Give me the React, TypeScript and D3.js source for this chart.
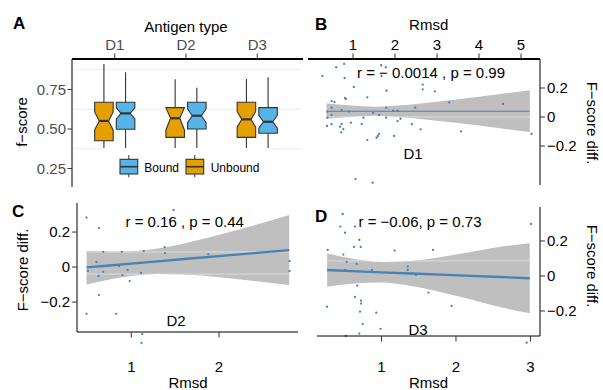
import React from 'react';
import * as d3 from 'd3';

const FONT = 'Liberation Sans, Arial, Helvetica, sans-serif';

// ---- panel A : notched boxplots ----
const antigenTypes = ['D1', 'D2', 'D3'];
const boxGroups = ['Unbound', 'Bound'];
const boxFill: Record<string, string> = { Unbound: '#E69F00', Bound: '#56B4E9' };
// [ymin, lower, notchLower, middle, notchUpper, upper, ymax] per antigen type
const unboundBoxes = [
  [0.33, 0.426, 0.494, 0.551, 0.608, 0.669, 0.911],
  [0.33, 0.447, 0.494, 0.568, 0.635, 0.635, 0.815],
  [0.33, 0.447, 0.511, 0.561, 0.611, 0.669, 0.816],
];
const boundBoxes = [
  [0.33, 0.498, 0.564, 0.599, 0.634, 0.669, 0.859],
  [0.33, 0.5, 0.54, 0.584, 0.628, 0.669, 0.761],
  [0.33, 0.473, 0.506, 0.546, 0.586, 0.635, 0.827],
];
const fscoreTicks = [0.25, 0.5, 0.75];
const fscoreGrid = [0.375, 0.625, 0.875];

// ---- panels B, C, D : rmsd vs f-score diff ----
const d1Points: [number, number][] = [
  [0.79, 0.366], [0.6, 0.343], [1.67, 0.357], [1.78, 0.343], [0.27, 0.283], [0.8, 0.269],
  [1.68, 0.283], [1.02, 0.207], [1.8, 0.181], [2.66, 0.223], [2.66, 0.191], [2.95, 0.177],
  [2.88, 0.283], [1.34, 0.136], [0.81, 0.131], [0.83, 0.124], [0.49, 0.11], [0.56, 0.103],
  [0.49, 0.064], [0.73, 0.048], [1.79, 0.064], [1.96, 0.043], [2.06, 0.043], [2.48, 0.064],
  [0.39, 0.037], [0.91, 0.037], [1.48, 0.028], [0.49, 0.014], [0.39, -0.005], [1.25, -0.005],
  [1.62, 0.014], [1.79, -0.005], [2.13, -0.012], [2.06, -0.028], [0.95, -0.039], [1.21, -0.048],
  [0.49, -0.05], [0.38, -0.062], [0.73, -0.048], [0.69, -0.067], [0.77, -0.083], [0.72, -0.106],
  [2.4, -0.05], [2.61, -0.085], [1.62, -0.117], [1.59, -0.131], [1.56, -0.143], [1.98, -0.131],
  [1.34, -0.159], [1.06, -0.428], [1.47, -0.453], [3.29, 0.101], [4.57, 0.09], [3.57, -0.099],
  [5.25, -0.117],
];
const d1FitX = [0.37, 0.8, 1.5, 2.5, 3.5, 4.5, 5.21];
const d1Fit = [0.04, 0.04, 0.04, 0.04, 0.04, 0.04, 0.04];
const d1Lo = [-0.014, -0.002, 0.009, -0.01, -0.042, -0.078, -0.104];
const d1Hi = [0.094, 0.082, 0.071, 0.09, 0.122, 0.158, 0.184];

const d2Points: [number, number][] = [
  [0.489, 0.283], [0.632, 0.223], [1.481, 0.326], [1.441, 0.269], [0.68, 0.087], [0.892, 0.087],
  [1.141, 0.091], [1.379, 0.114], [1.384, 0.08], [0.603, 0.029], [0.506, -0.022], [0.68, -0.027],
  [0.626, -0.051], [0.86, 0.006], [0.959, -0.017], [0.9, -0.046], [1.111, -0.034], [0.982, -0.08],
  [0.632, -0.16], [0.489, -0.267], [0.828, -0.267], [1.125, -0.383], [1.116, -0.433], [1.878, 0.073],
  [2.804, 0.034], [2.804, -0.023],
];
const d2FitX = [0.49, 0.75, 1.0, 1.3, 1.6, 2.0, 2.4, 2.8];
const d2Fit = [-0.002, 0.009, 0.02, 0.033, 0.046, 0.063, 0.08, 0.097];
const d2Lo = [-0.1, -0.071, -0.051, -0.04, -0.043, -0.058, -0.079, -0.103];
const d2Hi = [0.092, 0.089, 0.091, 0.106, 0.135, 0.184, 0.239, 0.297];

const d3Points: [number, number][] = [
  [0.479, 0.354], [0.447, 0.282], [0.644, 0.282], [0.51, 0.247], [0.702, 0.206], [0.631, 0.166],
  [0.721, 0.166], [0.278, 0.149], [0.487, 0.122], [1.177, 0.145], [1.691, 0.149], [0.533, 0.08],
  [0.667, 0.069], [0.514, 0.034], [0.872, 0.034], [1.352, 0.055], [1.352, 0.034], [1.463, 0.006],
  [0.675, -0.055], [0.644, -0.12], [0.725, -0.141], [0.725, -0.158], [0.268, -0.176], [0.711, -0.204],
  [0.93, -0.21], [0.748, -0.274], [0.987, -0.302], [0.702, -0.329], [0.519, -0.343], [1.631, -0.095],
  [1.942, -0.171], [2.949, -0.381], [2.286, 0.282], [3.007, 0.297],
];
const d3FitX = [0.27, 0.6, 1.0, 1.4, 1.8, 2.2, 2.6, 2.99];
const d3Fit = [0.034, 0.028, 0.021, 0.014, 0.008, 0.001, -0.006, -0.013];
const d3Lo = [-0.061, -0.044, -0.038, -0.058, -0.093, -0.135, -0.179, -0.213];
const d3Hi = [0.129, 0.1, 0.08, 0.086, 0.109, 0.137, 0.167, 0.187];

const diffTicks = [-0.2, 0, 0.2];
const fmtDiff = (v: number) => (v === 0 ? '0' : d3.format('.1f')(v));

function BoxPanel() {
  const x = d3.scalePoint<string>().domain(antigenTypes).range([72, 300]).padding(0.6);
  const y = d3.scaleLinear().domain([0.133, 0.943]).range([187, 59]);
  const step = x.step();
  const boxW = step * 0.26;
  const dodge = step * 0.152;

  const boxes = boxGroups.flatMap((g) =>
    antigenTypes.map((t, i) => {
      const s = g === 'Unbound' ? unboundBoxes[i] : boundBoxes[i];
      const cx = (x(t) as number) + (g === 'Unbound' ? -dodge : dodge);
      return { g, t, s, cx };
    })
  );

  return (
    <g>
      {fscoreGrid.map((v) => (
        <line key={v} x1={72} x2={301} y1={y(v)} y2={y(v)} stroke="#ebebeb" strokeWidth={1} />
      ))}
      {boxes.map(({ g, t, s, cx }) => {
        const [ymin, lower, nLo, mid, nHi, upper, ymax] = s;
        const l = cx - boxW / 2, r = cx + boxW / 2;
        const il = cx - boxW / 4, ir = cx + boxW / 4;
        const pts = [
          [l, y(upper)], [r, y(upper)], [r, y(nHi)], [ir, y(mid)], [r, y(nLo)], [r, y(lower)],
          [l, y(lower)], [l, y(nLo)], [il, y(mid)], [l, y(nHi)],
        ];
        return (
          <g key={g + t}>
            <line x1={cx} x2={cx} y1={y(upper)} y2={y(ymax)} stroke="#333" strokeWidth={1.1} />
            <line x1={cx} x2={cx} y1={y(lower)} y2={y(ymin)} stroke="#333" strokeWidth={1.1} />
            <polygon points={pts.map((p) => p.join(',')).join(' ')} fill={boxFill[g]} stroke="#333" strokeWidth={1.1} />
            <line x1={il} x2={ir} y1={y(mid)} y2={y(mid)} stroke="#333" strokeWidth={2.2} />
          </g>
        );
      })}
      {/* legend */}
      <rect x={102} y={148} width={167} height={40} fill="#fff" />
      {[
        { g: 'Bound', kx: 120, tx: 144.3 },
        { g: 'Unbound', kx: 186, tx: 210.7 },
      ].map(({ g, kx, tx }) => (
        <g key={g}>
          <line x1={kx + 8.8} x2={kx + 8.8} y1={155} y2={177.3} stroke="#333" strokeWidth={1} />
          <rect x={kx} y={159.3} width={17.7} height={14.7} fill={boxFill[g]} stroke="#333" strokeWidth={1.1} />
          <line x1={kx} x2={kx + 17.7} y1={166.7} y2={166.7} stroke="#333" strokeWidth={1.6} />
          <text x={tx} y={171.5} fontSize={12} fill="#000">{g}</text>
        </g>
      ))}
      {/* axes */}
      <line x1={72} x2={303} y1={59} y2={59} stroke="#000" strokeWidth={2} />
      <line x1={72} x2={72} y1={59} y2={187} stroke="#000" strokeWidth={1} />
      {antigenTypes.map((t) => (
        <g key={t}>
          <line x1={x(t)} x2={x(t)} y1={53.5} y2={59} stroke="#333" />
          <text x={x(t)} y={50} textAnchor="middle" fontSize={15} fill="#4d4d4d">{t}</text>
        </g>
      ))}
      {fscoreTicks.map((v) => (
        <g key={v}>
          <line x1={67.5} x2={72} y1={y(v)} y2={y(v)} stroke="#333" />
          <text x={66} y={y(v)} dy="0.35em" textAnchor="end" fontSize={15} fill="#4d4d4d">{d3.format('.2f')(v)}</text>
        </g>
      ))}
      <text x={186} y={32} textAnchor="middle" fontSize={15}>Antigen type</text>
      <text transform={`translate(27,122) rotate(-90)`} textAnchor="middle" fontSize={15}>f−score</text>
      <text x={13} y={28.5} fontSize={17} fontWeight="bold">A</text>
    </g>
  );
}

interface PanelProps {
  id: string;
  points: [number, number][];
  fitX: number[]; fit: number[]; lo: number[]; hi: number[];
  bandLines: number[];
  xDomain: [number, number]; xRange: [number, number];
  yDomain: [number, number]; yRange: [number, number];
  xTicks: number[];
  xSide: 'top' | 'bottom'; ySide: 'left' | 'right';
  xLabelY: number; xTitleX: number; xTitleY: number;
  yTitleX: number; yTitleY: number;
  lineWidth: number; xAxisWidth: number;
  stat: string; statX: number; statY: number;
  group: string; groupX: number; groupY: number;
  letter: string; letterX: number; letterY: number;
}

function ScatterPanel(p: PanelProps) {
  const x = d3.scaleLinear().domain(p.xDomain).range(p.xRange);
  const y = d3.scaleLinear().domain(p.yDomain).range(p.yRange);
  const band = p.fitX.map((v, i) => ({ x: v, fit: p.fit[i], lo: p.lo[i], hi: p.hi[i] }));
  const area = d3.area<typeof band[0]>()
    .x((d) => x(d.x)).y0((d) => y(d.lo)).y1((d) => y(d.hi)).curve(d3.curveMonotoneX);
  const line = d3.line<typeof band[0]>().x((d) => x(d.x)).y((d) => y(d.fit));
  const [x0, x1] = p.xRange;
  const [yB, yT] = p.yRange;
  const axX = p.xSide === 'top' ? yT : yB;
  const axY = p.ySide === 'left' ? x0 : x1;
  const tickDir = p.xSide === 'top' ? -1 : 1;
  const yTickDir = p.ySide === 'left' ? -1 : 1;
  const ribbonD = area(band) as string;

  return (
    <g>
      <defs>
        <clipPath id={`band-${p.id}`}>
          <path d={ribbonD} />
        </clipPath>
      </defs>
      <path d={ribbonD} fill="#bfbfbf" />
      <g clipPath={`url(#band-${p.id})`}>
        {p.bandLines.map((v) => (
          <line key={v} x1={x0} x2={x1} y1={y(v)} y2={y(v)} stroke="#dcdcdc" strokeWidth={1} />
        ))}
      </g>
      <path d={line(band) as string} fill="none" stroke="#4682B4" strokeWidth={p.lineWidth} />
      {p.points.map(([a, b], i) => (
        <circle key={i} cx={x(a)} cy={y(b)} r={1.15} fill="#4682B4" />
      ))}
      <line x1={x0} x2={x1} y1={axX} y2={axX} stroke="#000" strokeWidth={p.xAxisWidth} />
      <line x1={axY} x2={axY} y1={yT} y2={yB} stroke="#000" strokeWidth={1} />
      {p.xTicks.map((v) => (
        <g key={v}>
          <line x1={x(v)} x2={x(v)} y1={axX} y2={axX + tickDir * 5.5} stroke="#333" />
          <text x={x(v)} y={p.xLabelY} textAnchor="middle" fontSize={15}>{v}</text>
        </g>
      ))}
      {diffTicks.map((v) => (
        <g key={v}>
          <line x1={axY} x2={axY + yTickDir * 5} y1={y(v)} y2={y(v)} stroke="#333" />
          <text
            x={axY + yTickDir * 7}
            y={y(v)}
            dy="0.35em"
            textAnchor={p.ySide === 'left' ? 'end' : 'start'}
            fontSize={15}
          >
            {fmtDiff(v)}
          </text>
        </g>
      ))}
      <text x={p.xTitleX} y={p.xTitleY} textAnchor="middle" fontSize={15}>Rmsd</text>
      <text
        transform={`translate(${p.yTitleX},${p.yTitleY}) rotate(${p.ySide === 'left' ? -90 : 90})`}
        textAnchor="middle"
        fontSize={15}
      >
        F−score diff.
      </text>
      <text x={p.statX} y={p.statY} textAnchor="middle" fontSize={15}>{p.stat}</text>
      <text x={p.groupX} y={p.groupY} textAnchor="middle" fontSize={15}>{p.group}</text>
      <text x={p.letterX} y={p.letterY} fontSize={17} fontWeight="bold">{p.letter}</text>
    </g>
  );
}

export default function App() {
  return (
    <svg
      width={603}
      height={390}
      style={{ position: 'absolute', left: 0, top: 0, background: '#fff' }}
      fontFamily={FONT}
    >
      <rect width={603} height={390} fill="#fff" />
      <BoxPanel />
      <ScatterPanel
        id="b"
        points={d1Points}
        fitX={d1FitX} fit={d1Fit} lo={d1Lo} hi={d1Hi}
        bandLines={[0]}
        xDomain={[-0.071, 5.452]} xRange={[308, 540]}
        yDomain={[-0.469, 0.4]} yRange={[185, 59]}
        xTicks={[1, 2, 3, 4, 5]}
        xSide="top" ySide="right"
        xLabelY={49.5} xTitleX={428.7} xTitleY={29.5}
        yTitleX={587} yTitleY={123}
        lineWidth={1.1} xAxisWidth={2}
        stat="r = − 0.0014 , p = 0.99" statX={431} statY={77.5}
        group="D1" groupX={413} groupY={159.3}
        letter="B" letterX={315} letterY={29.5}
      />
      <ScatterPanel
        id="c"
        points={d2Points}
        fitX={d2FitX} fit={d2Fit} lo={d2Lo} hi={d2Hi}
        bandLines={[0.086, -0.04]}
        xDomain={[0.381, 2.9]} xRange={[77, 298]}
        yDomain={[-0.371, 0.366]} yRange={[332, 203]}
        xTicks={[1, 2]}
        xSide="bottom" ySide="left"
        xLabelY={372} xTitleX={188} xTitleY={387.5}
        yTitleX={28} yTitleY={270}
        lineWidth={2.3} xAxisWidth={1}
        stat="r = 0.16 , p = 0.44" statX={184.7} statY={226.5}
        group="D2" groupX={176} groupY={325.5}
        letter="C" letterX={12} letterY={216.5}
      />
      <ScatterPanel
        id="d"
        points={d3Points}
        fitX={d3FitX} fit={d3Fit} lo={d3Lo} hi={d3Hi}
        bandLines={[0.086]}
        xDomain={[0.134, 3.128]} xRange={[317, 540]}
        yDomain={[-0.343, 0.394]} yRange={[336, 207]}
        xTicks={[1, 2, 3]}
        xSide="bottom" ySide="right"
        xLabelY={372} xTitleX={428.5} xTitleY={387.5}
        yTitleX={587} yTitleY={266}
        lineWidth={2.3} xAxisWidth={1}
        stat="r = −0.06, p = 0.73" statX={420} statY={226.7}
        group="D3" groupX={418} groupY={335}
        letter="D" letterX={315} letterY={221.5}
      />
    </svg>
  );
}
